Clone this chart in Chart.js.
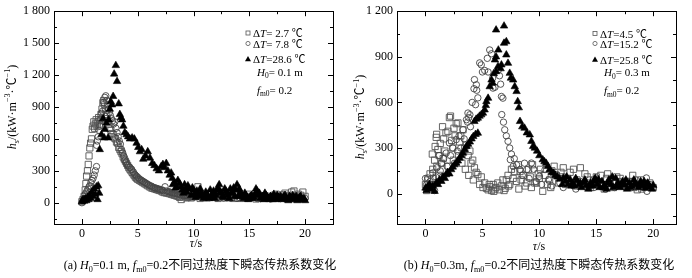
<!DOCTYPE html>
<html>
<head>
<meta charset="utf-8">
<script src="https://cdn.jsdelivr.net/npm/chart.js@4.4.1/dist/chart.umd.min.js"></script>
<style>
  body { margin: 0; background: #fff; width: 692px; height: 278px; overflow: hidden; position: relative; }
  canvas { position: absolute; top: 0; }
  #ca { left: 0; }
  #cb { left: 345px; }
</style>
</head>
<body>
<canvas id="ca" width="345" height="278"></canvas>
<canvas id="cb" width="347" height="278"></canvas>
<script>
/* axes */
const xTicks = [0, 5, 10, 15, 20];
const xMinor = [2.5, 7.5, 12.5, 17.5];
const yTicksA = [0, 300, 600, 900, 1200, 1500, 1800];
const yMinorA = [-150, 150, 450, 750, 1050, 1350, 1650];
const yTicksB = [0, 300, 600, 900, 1200];
const yMinorB = [-150, 150, 450, 750, 1050];

/* legend values (ΔT, ℃) */
const dTA = [' 2.7', ' 7.8', '28.6'];
const dTB = ['4.5', '15.2', '25.8'];

/* (a) H0=0.1 m : [tau (s), hs] */
const sqA = [[0.0,10],[0.1,30],[0.2,60],[0.3,120],[0.36,180],[0.42,250],[0.5,300],[0.57,360],[0.64,440],[0.71,515],[0.78,560],[0.86,600],[0.93,690],[1.0,720],[1.07,760],[1.14,700],[1.21,740],[1.28,780],[1.36,720],[1.43,760],[1.5,800],[1.57,740],[1.64,780],[1.71,830],[1.8,880],[1.88,940],[1.95,960],[2.05,920],[2.14,870],[2.22,830],[2.3,790],[2.4,740],[2.5,700],[2.6,680],[2.7,650],[2.8,640],[2.9,610],[3.0,600],[3.1,570],[3.2,560],[3.3,520],[3.4,500],[3.5,480],[3.6,460],[3.7,430],[3.8,410],[3.9,390],[4.0,370],[4.1,350],[4.2,330],[4.3,315],[4.4,300],[4.5,285],[4.6,270],[4.7,255],[4.8,240],[4.9,230],[5.0,220],[5.15,210],[5.3,200],[5.45,190],[5.6,180],[5.75,170],[5.9,160],[6.05,150],[6.2,140],[6.35,135],[6.5,130],[6.65,125],[6.8,120],[6.95,115],[7.1,110],[7.25,100],[7.4,95],[7.55,92],[7.7,90],[7.85,85],[8.0,80],[8.15,75],[8.3,70],[8.45,65],[8.6,60],[8.75,50],[8.9,30],[9.05,65],[9.2,60],[9.35,45],[9.5,50],[9.65,70],[9.8,45],[10.0,55],[10.2,60],[10.4,150],[10.6,40],[10.8,75],[11.0,70],[11.2,45],[11.4,50],[11.6,90],[11.8,80],[12.0,55],[12.2,40],[12.4,75],[12.6,60],[12.8,45],[13.0,90],[13.2,65],[13.4,50],[13.6,40],[13.8,70],[14.0,85],[14.2,40],[14.4,55],[14.6,60],[14.8,45],[15.0,80],[15.2,60],[15.4,50],[15.6,35],[15.8,70],[16.0,55],[16.2,40],[16.4,65],[16.6,60],[16.8,45],[17.0,50],[17.2,70],[17.4,80],[17.6,55],[17.8,60],[18.0,75],[18.2,90],[18.4,60],[18.6,70],[18.8,100],[19.0,110],[19.2,60],[19.4,80],[19.6,70],[19.8,100],[20.0,60]];
const ciA = [[0.0,0],[0.1,20],[0.2,40],[0.27,75],[0.35,90],[0.45,110],[0.55,130],[0.64,150],[0.71,160],[0.8,190],[0.9,210],[1.0,230],[1.1,260],[1.2,300],[1.31,340],[1.31,540],[1.38,580],[1.46,620],[1.55,680],[1.62,720],[1.7,790],[1.76,840],[1.85,860],[1.95,940],[2.05,990],[2.14,1005],[2.22,960],[2.3,920],[2.38,880],[2.46,850],[2.55,820],[2.65,790],[2.75,770],[2.85,740],[2.95,760],[3.05,700],[3.15,660],[3.25,620],[3.35,580],[3.45,550],[3.55,500],[3.65,470],[3.75,440],[3.84,400],[3.95,380],[4.05,360],[4.15,345],[4.3,330],[4.45,315],[4.6,290],[4.75,265],[4.9,250],[5.05,235],[5.2,220],[5.35,210],[5.5,200],[5.65,190],[5.8,180],[5.95,170],[6.1,160],[6.25,155],[6.4,145],[6.55,140],[6.7,135],[6.85,130],[7.0,125],[7.15,120],[7.3,115],[7.45,150],[7.6,110],[7.75,105],[7.9,100],[8.05,95],[8.2,90],[8.35,88],[8.5,85],[8.65,80],[8.8,75],[8.95,72],[9.1,70],[9.25,68],[9.4,65],[9.55,62],[9.7,60],[9.85,58],[10.0,55],[10.3,60],[10.6,52],[10.9,50],[11.2,55],[11.5,48],[11.8,52],[12.1,45],[12.4,50],[12.7,45],[13.0,48],[13.3,42],[13.6,50],[13.9,40],[14.2,45],[14.5,42],[14.8,40],[15.1,45],[15.4,50],[15.7,40],[16.0,38],[16.3,45],[16.6,40],[16.9,35],[17.2,45],[17.5,42],[17.8,38],[18.1,45],[18.4,50],[18.7,40],[19.0,42],[19.3,45],[19.6,40],[20.0,40]];
const trA = [[0.0,10],[0.1,30],[0.2,15],[0.3,40],[0.4,20],[0.5,50],[0.6,30],[0.7,70],[0.8,40],[0.9,100],[1.0,60],[1.1,130],[1.2,80],[1.3,150],[1.4,30],[1.46,160],[1.55,90],[1.6,500],[1.75,640],[1.9,790],[2.0,610],[2.05,690],[2.2,750],[2.35,610],[2.4,780],[2.5,880],[2.59,950],[2.7,920],[2.8,1000],[2.89,1210],[3.04,1290],[3.15,1140],[3.3,930],[3.4,830],[3.5,800],[3.6,780],[3.72,720],[3.84,660],[4.0,640],[4.14,620],[4.3,600],[4.5,610],[4.7,600],[4.9,560],[5.05,520],[5.2,480],[5.35,500],[5.5,410],[5.7,440],[5.9,480],[6.1,420],[6.3,370],[6.5,350],[6.7,320],[6.9,300],[7.1,340],[7.26,360],[7.4,330],[7.56,370],[7.7,300],[7.86,260],[8.0,280],[8.15,170],[8.3,190],[8.5,150],[8.75,180],[9.0,120],[9.2,170],[9.4,100],[9.6,130],[9.9,140],[10.1,80],[10.3,110],[10.5,60],[10.7,90],[10.9,40],[11.1,100],[11.3,60],[11.5,120],[11.7,80],[11.9,40],[12.1,120],[12.3,170],[12.5,90],[12.7,50],[12.9,110],[13.1,70],[13.3,130],[13.5,90],[13.7,60],[13.9,170],[14.1,130],[14.3,80],[14.5,40],[14.7,70],[14.9,30],[15.1,60],[15.3,40],[15.5,80],[15.7,110],[15.9,90],[16.1,50],[16.3,30],[16.5,70],[16.7,40],[16.9,60],[17.1,30],[17.3,50],[17.5,70],[17.7,40],[17.9,30],[18.1,60],[18.3,40],[18.5,20],[18.7,50],[18.9,70],[19.1,40],[19.3,20],[19.5,50],[19.7,30],[19.9,40],[20.0,20],
  [8.1,230],[8.4,140],[8.6,210],[8.9,150],[9.1,90],[9.3,130],[9.5,160],[9.8,70],[10.0,120],[10.2,50],[10.4,90],[10.6,130],[10.8,70],[11.0,50],[11.2,80],[11.4,40],[11.6,60],[11.8,110],[12.0,70],[12.2,140],[12.4,100],[12.6,60],[12.8,130],[13.0,90],[13.2,40],[13.4,100],[13.6,140],[13.8,120],[14.0,60],[14.2,100],[14.4,60],[14.6,90],[14.8,50],[15.0,40],[15.2,70],[15.4,50],[15.6,130],[15.8,70],[16.0,40],[16.2,60],[16.4,90],[16.6,50],[16.8,30],[17.0,50],[17.2,80],[17.4,30],[17.6,50],[17.8,60],[18.0,40],[18.2,70],[18.4,30],[18.6,60],[18.8,40],[19.0,30],[19.2,60],[19.4,40],[19.6,60],[19.8,30]];

/* (b) H0=0.3 m : [tau (s), hs] */
const sqB = [[0.0,60],[0.1,20],[0.2,90],[0.3,40],[0.4,130],[0.5,60],[0.64,160],[0.7,100],[0.8,220],[0.85,310],[0.94,370],[0.98,390],[1.0,180],[1.09,290],[1.2,250],[1.3,330],[1.4,200],[1.5,440],[1.6,360],[1.7,280],[1.8,400],[1.97,410],[2.1,500],[2.2,510],[2.3,350],[2.4,300],[2.5,430],[2.6,380],[2.7,460],[2.85,465],[3.0,340],[3.1,380],[3.3,420],[3.45,300],[3.6,320],[3.75,250],[3.9,280],[4.0,200],[4.15,220],[4.3,170],[4.45,140],[4.6,125],[4.76,60],[4.9,110],[5.05,40],[5.2,70],[5.35,35],[5.5,25],[5.65,45],[5.8,20],[5.95,60],[6.1,30],[6.2,40],[6.35,70],[6.5,25],[6.65,50],[6.8,90],[7.0,35],[7.1,90],[7.25,120],[7.4,60],[7.55,160],[7.7,100],[7.84,145],[8.0,80],[8.15,190],[8.3,145],[8.4,90],[8.6,120],[8.75,50],[8.9,70],[9.05,160],[9.2,110],[9.4,190],[9.6,70],[9.75,70],[9.9,130],[10.1,160],[10.3,15],[10.5,120],[10.7,60],[10.9,90],[11.1,150],[11.3,180],[11.5,120],[11.7,70],[11.9,140],[12.1,170],[12.3,60],[12.5,100],[12.7,140],[13.0,160],[13.3,90],[13.6,170],[13.9,60],[14.2,110],[14.5,40],[14.8,90],[15.1,60],[15.4,120],[15.7,30],[15.9,100],[16.2,70],[16.5,40],[16.8,110],[17.1,100],[17.4,50],[17.7,80],[18.0,80],[18.3,40],[18.6,25],[18.9,90],[19.2,60],[19.4,50],[19.7,70],[20.0,40],
  [0.6,260],[1.15,120],[1.55,230],[2.0,180],[2.45,220],[2.9,250],[3.2,200],[3.5,160],[3.8,120],[4.2,90],[5.6,60],[6.0,15],[6.9,20],[7.3,50],[8.2,30],[9.3,40],[10.0,100],[11.0,40],[12.0,110],[13.2,50],[14.0,130],[15.0,110],[16.0,130],[17.0,60],[18.2,120],[19.0,30]];
const ciB = [[0.0,100],[0.1,60],[0.2,103],[0.3,40],[0.4,80],[0.5,48],[0.64,136],[0.7,60],[0.8,20],[0.9,110],[1.0,170],[1.1,80],[1.2,250],[1.3,150],[1.4,200],[1.5,110],[1.6,230],[1.82,267],[1.9,180],[2.1,333],[2.2,250],[2.4,300],[2.55,200],[2.7,355],[2.8,280],[2.95,380],[3.1,300],[3.3,420],[3.4,360],[3.6,486],[3.7,470],[3.73,530],[3.8,500],[3.9,519],[3.95,440],[4.1,600],[4.26,690],[4.3,750],[4.4,585],[4.47,716],[4.5,680],[4.6,630],[4.76,860],[4.9,847],[5.0,800],[5.2,810],[5.43,890],[5.5,800],[5.64,945],[5.8,920],[5.9,760],[5.93,694],[6.1,700],[6.4,814],[6.5,775],[6.6,720],[6.67,639],[6.7,520],[6.8,628],[6.85,470],[6.96,420],[7.1,380],[7.25,344],[7.4,300],[7.45,223],[7.55,260],[7.7,179],[7.8,230],[8.0,190],[8.3,158],[8.5,120],[8.7,200],[8.9,158],[9.1,100],[9.3,201],[9.5,160],[9.7,80],[10.0,114],[10.2,60],[10.5,158],[10.8,90],[11.1,50],[11.5,125],[11.8,70],[12.1,40],[12.4,100],[12.8,60],[13.2,30],[13.6,80],[14.0,50],[14.4,90],[14.8,40],[15.0,103],[15.4,60],[15.8,30],[16.2,70],[16.6,40],[17.0,80],[17.4,50],[17.7,70],[18.1,40],[18.5,90],[18.9,50],[19.2,70],[19.4,103],[19.45,15],[19.7,60],[20.0,40]];
const trB = [[0.0,37],[0.1,20],[0.2,45],[0.35,60],[0.5,30],[0.65,50],[0.8,15],[0.95,70],[1.1,60],[1.25,90],[1.4,81],[1.55,110],[1.7,100],[1.8,125],[1.95,140],[2.1,130],[2.26,158],[2.4,175],[2.55,190],[2.7,201],[2.85,215],[3.0,234],[3.15,250],[3.3,267],[3.45,290],[3.6,311],[3.75,325],[3.9,340],[4.05,360],[4.2,376],[4.4,390],[4.6,398],[4.3,475],[4.45,490],[4.6,497],[4.75,510],[4.9,519],[5.05,530],[5.2,551],[5.3,580],[5.35,606],[5.5,628],[5.64,704],[5.8,748],[5.9,727],[6.0,790],[6.1,880],[6.2,900],[6.2,803],[6.2,1077],[6.37,836],[6.4,945],[6.6,822],[6.67,847],[6.9,990],[6.9,1103],[7.1,1000],[7.1,913],[7.25,858],[7.4,792],[7.5,760],[7.7,748],[7.84,704],[8.0,672],[8.1,606],[8.2,565],[8.3,475],[8.5,440],[8.7,431],[8.9,400],[9.16,387],[9.3,344],[9.45,311],[9.6,300],[9.8,280],[10.0,250],[10.3,223],[10.45,210],[10.6,200],[10.75,180],[10.9,158],[11.1,140],[11.25,135],[11.4,120],[11.6,110],[11.8,95],[12.1,103],[12.3,80],[12.5,60],[12.7,90],[12.9,70],[13.1,50],[13.3,85],[13.5,60],[13.7,40],[13.9,75],[14.1,55],[14.3,30],[14.5,70],[14.7,50],[14.9,100],[15.1,60],[15.3,40],[15.5,80],[15.7,55],[15.9,30],[16.1,90],[16.3,60],[16.5,40],[16.7,100],[16.9,70],[17.1,40],[17.3,80],[17.5,55],[17.7,30],[17.9,70],[18.1,50],[18.3,90],[18.5,60],[18.7,40],[18.9,80],[19.1,55],[19.3,35],[19.5,70],[19.7,45],[19.9,30],[20.0,55],
  [12.0,60],[12.4,110],[12.8,50],[13.2,100],[13.6,70],[14.0,90],[14.4,50],[14.8,80],[15.2,90],[15.6,40],[16.0,70],[16.4,110],[16.8,50],[17.2,60],[17.6,90],[18.0,40],[18.4,70],[18.8,55],[19.2,80],[19.6,60]];

const SERIF = '"Liberation Serif", "Noto Sans CJK SC", serif';
Chart.defaults.font.family = SERIF;
Chart.defaults.font.size = 12;
Chart.defaults.color = '#000';

function fontFor(st, size) {
  const small = st.includes('s') || st.includes('p');
  return (st.includes('i') ? 'italic ' : '') + (small ? size * 0.68 : size) + 'px ' + SERIF;
}

// text in pieces: '' plain, 'i' italic, 's' subscript, 'is' italic subscript, 'p' superscript
function richText(ctx, parts, x, y, size, align) {
  let w = 0;
  parts.forEach(p => { ctx.font = fontFor(p[1] || '', size); w += ctx.measureText(p[0]).width; });
  let cx = align === 'center' ? x - w / 2 : x;
  ctx.textAlign = 'left';
  ctx.textBaseline = 'alphabetic';
  parts.forEach(p => {
    const st = p[1] || '';
    ctx.font = fontFor(st, size);
    const dy = st.includes('s') ? size * 0.25 : (st.includes('p') ? -size * 0.42 : 0);
    ctx.fillText(p[0], cx, y + dy);
    cx += ctx.measureText(p[0]).width;
  });
}

function drawMark(ctx, kind, x, y) {
  ctx.beginPath();
  if (kind === 'rect') {
    ctx.strokeStyle = '#555';
    ctx.strokeRect(x - 2, y - 2, 4, 4);
  } else if (kind === 'circle') {
    ctx.strokeStyle = '#555';
    ctx.arc(x, y, 2.1, 0, Math.PI * 2);
    ctx.stroke();
  } else {
    ctx.fillStyle = '#000';
    ctx.moveTo(x, y - 3);
    ctx.lineTo(x + 3, y + 2.2);
    ctx.lineTo(x - 3, y + 2.2);
    ctx.closePath();
    ctx.fill();
  }
}

const ytitle = [['h', 'i'], ['s', 'is'], ['/(kW·m'], ['−3', 'p'], ['·℃'], ['−1', 'p'], [')']];
const xtitle = [['τ', 'i'], ['/s']];

function framePlugin(o) {
  return {
    id: 'frame',
    afterDatasetsDraw(chart) {
      const ctx = chart.ctx;
      const a = chart.chartArea;
      const sx = chart.scales.x, sy = chart.scales.y;
      ctx.save();
      ctx.strokeStyle = '#000';
      ctx.lineWidth = 1;
      ctx.strokeRect(Math.round(a.left) + 0.5, Math.round(a.top) + 0.5, Math.round(a.right - a.left), Math.round(a.bottom - a.top));
      const tick = (vals, len, isX) => {
        ctx.beginPath();
        vals.forEach(v => {
          if (isX) {
            const p = Math.round(sx.getPixelForValue(v)) + 0.5;
            ctx.moveTo(p, a.bottom); ctx.lineTo(p, a.bottom - len);
            ctx.moveTo(p, a.top); ctx.lineTo(p, a.top + len);
          } else {
            const p = Math.round(sy.getPixelForValue(v)) + 0.5;
            ctx.moveTo(a.left, p); ctx.lineTo(a.left + len, p);
            ctx.moveTo(a.right, p); ctx.lineTo(a.right - len, p);
          }
        });
        ctx.stroke();
      };
      tick(xTicks, 5, true);
      tick(xMinor, 3, true);
      tick(o.yTicks, 5, false);
      tick(o.yMinor, 3, false);

      ctx.fillStyle = '#000';
      // y title
      ctx.save();
      ctx.translate(o.ytx, o.yty);
      ctx.rotate(-Math.PI / 2);
      richText(ctx, ytitle, 0, 0, 12, 'center');
      ctx.restore();
      // x title
      richText(ctx, xtitle, o.xtx, o.xty, 12, 'center');
      // caption
      richText(ctx, o.caption, o.capx, 269, 12, 'center');

      // legend
      const marks = ['rect', 'circle', 'tri'];
      ctx.lineWidth = 0.8;
      o.dT.forEach((v, i) => {
        drawMark(ctx, marks[i], o.lgx, o.lgy[i]);
        ctx.fillStyle = '#000';
        richText(ctx, [['Δ'], ['T', 'i'], ['=' + v + ' ℃']], o.lgx + 5, o.lgy[i] + 4, 11, 'left');
      });
      richText(ctx, o.hline, o.lgx + 9, o.lgy[3] + 4, 11, 'left');
      richText(ctx, [['f', 'i'], ['m0', 's'], ['= 0.2']], o.lgx + 9, o.lgy[4] + 4, 11, 'left');
      ctx.restore();
    }
  };
}

function pts(arr) { return arr.map(p => ({ x: p[0], y: p[1] })); }

function makeChart(id, tr, ci, sq, o) {
  const fmt = v => v >= 1000 ? Math.floor(v / 1000) + ' ' + String(v % 1000).padStart(3, '0') : String(v);
  return new Chart(document.getElementById(id), {
    type: 'scatter',
    data: {
      datasets: [
        { data: pts(tr), pointStyle: 'triangle', pointRadius: 4.3, pointBackgroundColor: '#000', pointBorderColor: '#000', pointBorderWidth: 0.6 },
        { data: pts(ci), pointStyle: 'circle', pointRadius: 3.2, pointBackgroundColor: 'rgba(0,0,0,0)', pointBorderColor: '#444', pointBorderWidth: 0.9 },
        { data: pts(sq), pointStyle: 'rect', pointRadius: 4.4, pointBackgroundColor: 'rgba(0,0,0,0)', pointBorderColor: '#555', pointBorderWidth: 0.9 }
      ]
    },
    options: {
      responsive: false,
      animation: false,
      devicePixelRatio: 1,
      layout: { padding: o.pad },
      plugins: { legend: { display: false }, tooltip: { enabled: false } },
      scales: {
        x: {
          type: 'linear', min: -2.5, max: o.xMax,
          grid: { display: false, drawTicks: false }, border: { display: false },
          afterBuildTicks: s => { s.ticks = xTicks.map(v => ({ value: v })); },
          afterFit: s => { s.height = 54; },
          ticks: { padding: 3, font: { size: 12 }, color: '#000' }
        },
        y: {
          type: 'linear', min: -200, max: o.yMax,
          grid: { display: false, drawTicks: false }, border: { display: false },
          afterBuildTicks: s => { s.ticks = o.yTicks.map(v => ({ value: v })); },
          afterFit: s => { s.width = o.yw; },
          ticks: { padding: 4, font: { size: 12 }, color: '#000', callback: fmt }
        }
      }
    },
    plugins: [framePlugin(o)]
  });
}

makeChart('ca', trA, ciA, sqA, {
  pad: { left: 0, top: 11, right: 12, bottom: 0 }, yw: 54, xMax: 22.5, yMax: 1800,
  yTicks: yTicksA, yMinor: yMinorA,
  ytx: 15.5, yty: 107, xtx: 196, xty: 247, capx: 200,
  caption: [['(a) '], ['H', 'i'], ['0', 's'], ['=0.1 m, '], ['f', 'i'], ['m0', 's'], ['=0.2不同过热度下瞬态传热系数变化']],
  dT: dTA, lgx: 248, lgy: [33, 43.5, 59, 71.5, 89.5],
  hline: [['H', 'i'], ['0', 's'], ['= 0.1 m']]
});

makeChart('cb', trB, ciB, sqB, {
  pad: { left: 0, top: 11, right: 16, bottom: 0 }, yw: 52, xMax: 22, yMax: 1200,
  yTicks: yTicksB, yMinor: yMinorB,
  ytx: 19, yty: 117, xtx: 194, xty: 250, capx: 194,
  caption: [['(b) '], ['H', 'i'], ['0', 's'], ['=0.3m, '], ['f', 'i'], ['m0', 's'], ['=0.2不同过热度下瞬态传热系数变化']],
  dT: dTB, lgx: 250, lgy: [33.5, 43.5, 59.5, 72, 90],
  hline: [['H', 'i'], ['0', 's'], ['= 0.3 m']]
});
</script>
</body>
</html>
